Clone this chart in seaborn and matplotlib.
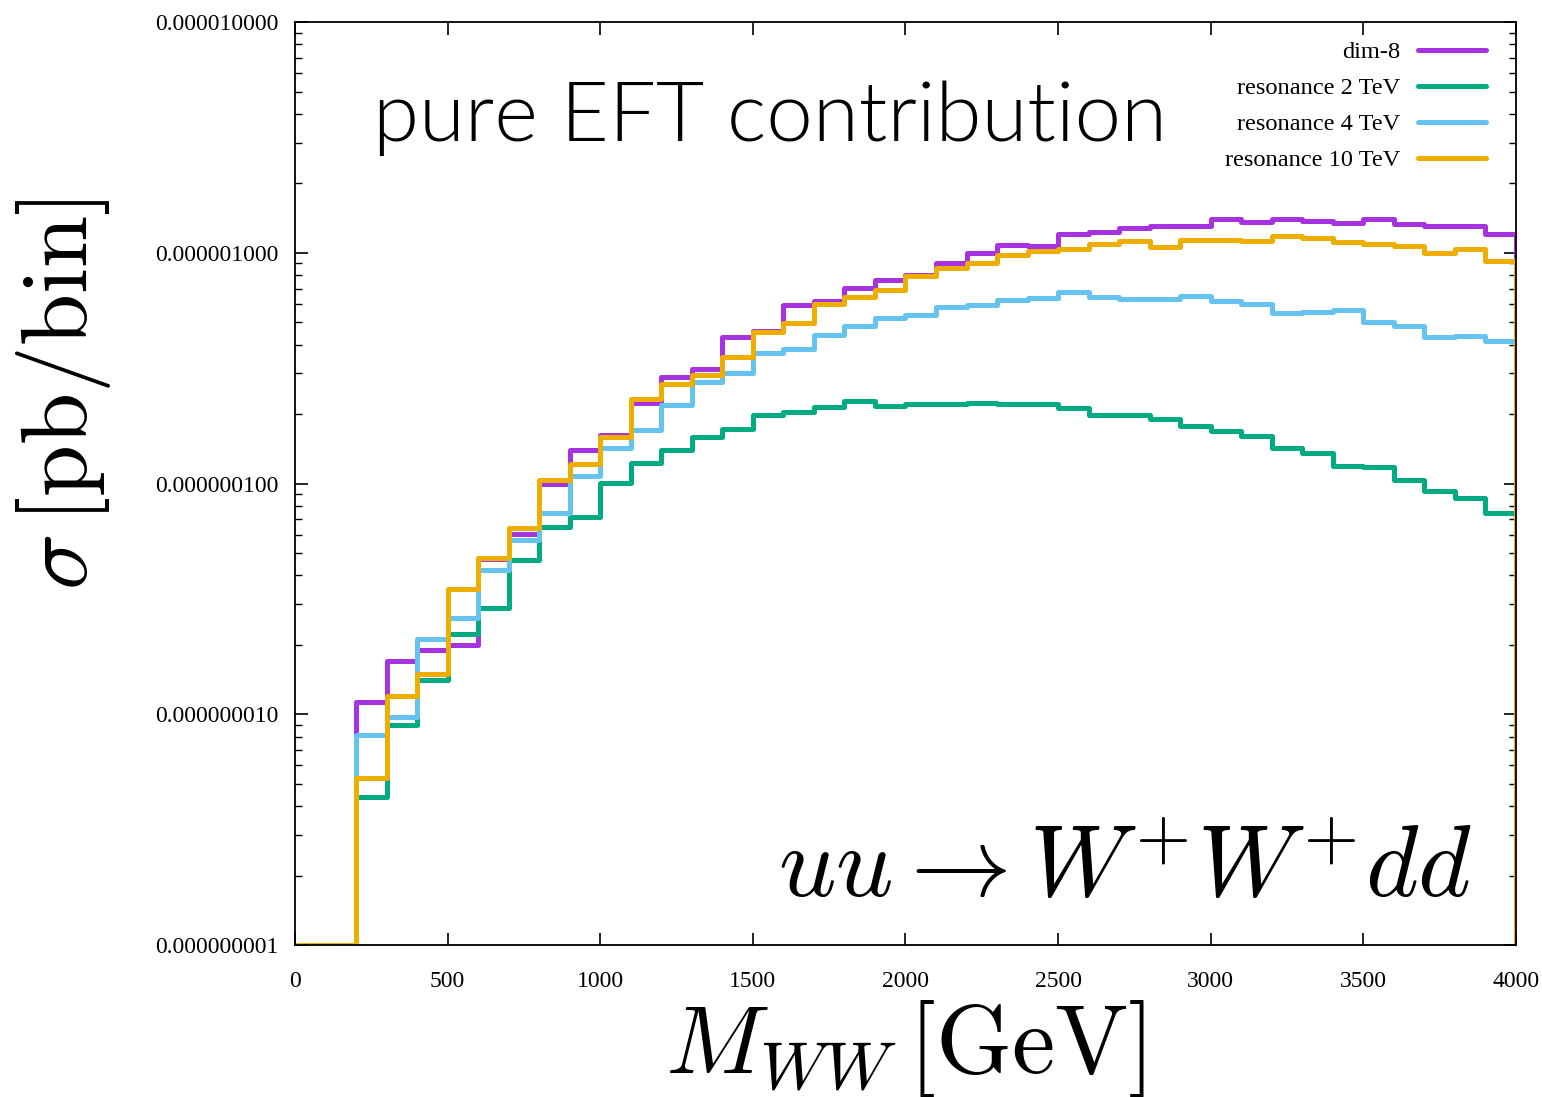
import numpy as np
import pandas as pd
import matplotlib
matplotlib.use("Agg")
import matplotlib.pyplot as plt
import matplotlib.ticker as mticker
import seaborn as sns

# ---- data: bin lower edges (GeV) and cross section per bin (pb/bin) ----
bin_edges = [0, 100, 200, 300, 400, 500, 600, 700, 800, 900, 1000, 1100, 1200, 1300,
             1400, 1500, 1600, 1700, 1800, 1900, 2000, 2100, 2200, 2300, 2400, 2500,
             2600, 2700, 2800, 2900, 3000, 3100, 3200, 3300, 3400, 3500, 3600, 3700,
             3800, 3900, 4000]

dim8 = [1e-9, 1e-9, 1.13e-8, 1.70e-8, 1.89e-8, 2.00e-8, 4.70e-8, 6.04e-8, 9.92e-8, 1.40e-7,
        1.62e-7, 2.24e-7, 2.89e-7, 3.13e-7, 4.33e-7, 4.59e-7, 5.94e-7, 6.15e-7, 7.03e-7, 7.62e-7,
        8.04e-7, 9.00e-7, 9.97e-7, 1.08e-6, 1.07e-6, 1.21e-6, 1.23e-6, 1.28e-6, 1.31e-6, 1.30e-6,
        1.40e-6, 1.36e-6, 1.40e-6, 1.37e-6, 1.35e-6, 1.40e-6, 1.33e-6, 1.31e-6, 1.30e-6, 1.21e-6]

res2 = [1e-9, 1e-9, 4.38e-9, 8.98e-9, 1.41e-8, 2.23e-8, 2.89e-8, 4.66e-8, 6.46e-8, 7.14e-8,
        1.003e-7, 1.23e-7, 1.40e-7, 1.585e-7, 1.73e-7, 1.98e-7, 2.05e-7, 2.15e-7, 2.28e-7, 2.16e-7,
        2.22e-7, 2.20e-7, 2.23e-7, 2.21e-7, 2.21e-7, 2.12e-7, 1.98e-7, 1.98e-7, 1.90e-7, 1.78e-7,
        1.69e-7, 1.61e-7, 1.43e-7, 1.36e-7, 1.19e-7, 1.175e-7, 1.035e-7, 9.28e-8, 8.63e-8, 7.43e-8]

res4 = [1e-9, 1e-9, 8.15e-9, 9.70e-9, 2.11e-8, 2.60e-8, 4.22e-8, 5.69e-8, 7.43e-8, 1.078e-7,
        1.42e-7, 1.71e-7, 2.19e-7, 2.76e-7, 3.02e-7, 3.69e-7, 3.84e-7, 4.42e-7, 4.81e-7, 5.24e-7,
        5.37e-7, 5.82e-7, 5.96e-7, 6.22e-7, 6.35e-7, 6.74e-7, 6.41e-7, 6.30e-7, 6.30e-7, 6.49e-7,
        6.20e-7, 5.98e-7, 5.50e-7, 5.55e-7, 5.65e-7, 5.02e-7, 4.83e-7, 4.30e-7, 4.37e-7, 4.16e-7]

res10 = [1e-9, 1e-9, 5.28e-9, 1.20e-8, 1.50e-8, 3.48e-8, 4.75e-8, 6.40e-8, 1.035e-7, 1.215e-7,
         1.59e-7, 2.32e-7, 2.70e-7, 2.96e-7, 3.54e-7, 4.52e-7, 4.94e-7, 6.00e-7, 6.43e-7, 6.92e-7,
         7.95e-7, 8.56e-7, 9.00e-7, 9.75e-7, 1.018e-6, 1.035e-6, 1.088e-6, 1.128e-6, 1.062e-6, 1.136e-6,
         1.136e-6, 1.125e-6, 1.18e-6, 1.155e-6, 1.116e-6, 1.088e-6, 1.07e-6, 9.95e-7, 1.035e-6, 9.24e-7]

floor_value = 1e-9
series_names = ["dim-8", "resonance 2 TeV", "resonance 4 TeV", "resonance 10 TeV"]
series_values = [dim8, res2, res4, res10]
series_colors = ["#a632e0", "#00ab84", "#66c3f0", "#eeae00"]
y_ticks = [1e-9, 1e-8, 1e-7, 1e-6, 1e-5]
x_ticks = [0, 500, 1000, 1500, 2000, 2500, 3000, 3500, 4000]

# ---- style ----
sns.set_theme(style="ticks")
plt.rcParams["font.family"] = ["Liberation Serif", "DejaVu Serif"]
plt.rcParams["mathtext.fontset"] = "cm"
for k in ["text.color", "axes.labelcolor", "xtick.color", "ytick.color", "axes.edgecolor"]:
    plt.rcParams[k] = "black"

fig = plt.figure(figsize=(15.42, 10.97), dpi=100)
ax = fig.add_axes([0.1913, 0.1386, 0.9831 - 0.1913, 0.9799 - 0.1386])

for name, vals, col in zip(series_names, series_values, series_colors):
    df = pd.DataFrame({"mww": bin_edges, "sigma": list(vals) + [floor_value]})
    sns.lineplot(data=df, x="mww", y="sigma", drawstyle="steps-post", color=col,
                 lw=3.6, label=name, ax=ax, estimator=None, sort=False)

ax.set_yscale("log")
ax.set_xlim(0, 4000)
ax.set_ylim(1e-9, 1e-5)
ax.set_xticks(x_ticks)
ax.set_yticks(y_ticks)
ax.yaxis.set_major_formatter(mticker.FuncFormatter(lambda v, p: f"{v:.9f}"))
ax.yaxis.set_minor_locator(mticker.LogLocator(base=10, subs=np.arange(2, 10)))
ax.yaxis.set_minor_formatter(mticker.NullFormatter())

ax.tick_params(axis="both", which="major", direction="in", length=9, width=1.2,
               top=True, right=True, labelsize=17, colors="black")
ax.tick_params(axis="y", which="major", pad=12)
ax.tick_params(axis="x", which="major", pad=19)
ax.tick_params(axis="y", which="minor", direction="in", length=5, width=1.0,
               left=True, right=True)
for s in ax.spines.values():
    s.set_linewidth(1.3)
    s.set_color("black")

ax.set_xlabel(r"$M_{WW}\,[\mathrm{GeV}]$", fontsize=70, labelpad=4)
ax.set_ylabel(r"$\sigma\,[\mathrm{pb/bin}]$", fontsize=67.5)
ax.yaxis.set_label_coords(-0.149, 0.596)

ax.text(0.064, 0.871, "pure EFT contribution", transform=ax.transAxes,
        fontsize=60, family=["Lato", "Liberation Sans", "DejaVu Sans"], fontweight=300,
        ha="left", va="baseline", color="black")
ax.text(0.964, 0.052, r"$uu \rightarrow W^{+}W^{+}dd$", transform=ax.transAxes,
        fontsize=72.5, ha="right", va="baseline", color="black")

leg = ax.legend(loc="upper right", frameon=False, markerfirst=False, fontsize=17.6,
                handlelength=2.8, handletextpad=0.7, labelspacing=0.57,
                borderaxespad=0.0, bbox_to_anchor=(0.9836, 0.99))
for h in leg.get_lines():
    h.set_linewidth(3.6)

fig.savefig("out.png", dpi=100)
